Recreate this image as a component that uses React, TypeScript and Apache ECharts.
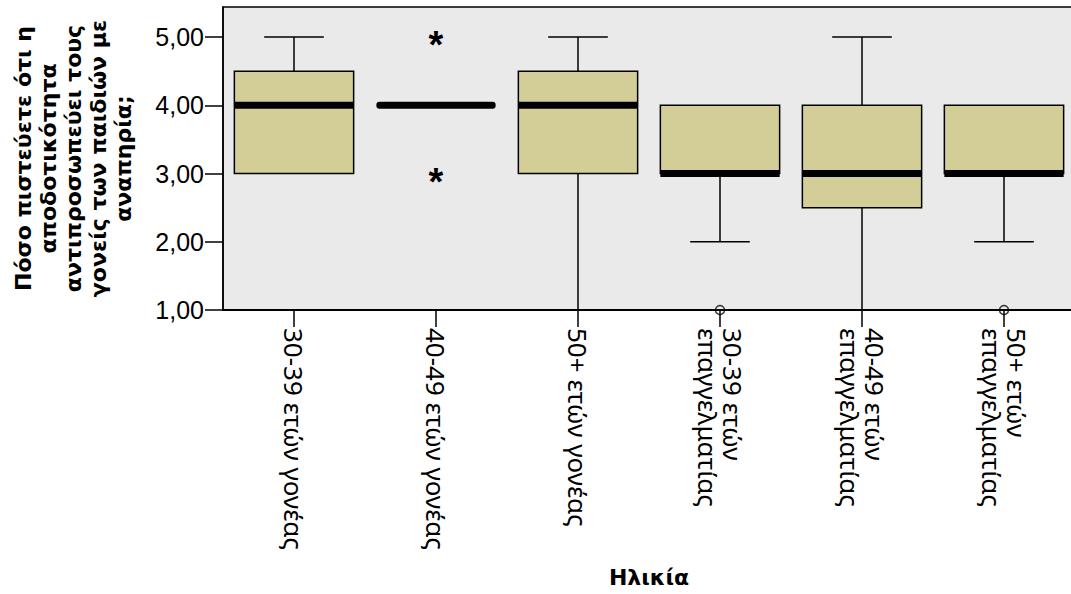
import React, { useEffect, useRef } from "react";
import * as echarts from "echarts";

const categories = [
  "30-39 ετών γονέας",
  "40-49 ετών γονέας",
  "50+ ετών γονέας",
  "30-39 ετών\nεπαγγελματίας",
  "40-49 ετών\nεπαγγελματίας",
  "50+ ετών\nεπαγγελματίας",
];
const minValues = [3, 4, 1, 2, 1, 2];
const q1Values = [3, 4, 3, 3, 2.5, 3];
const medianValues = [4, 4, 4, 3, 3, 3];
const q3Values = [4.5, 4, 4.5, 4, 4, 4];
const maxValues = [5, 4, 5, 4, 5, 4];
// extreme outliers (*): [category index, value]
const extremeOutliers = [
  [1, 5],
  [1, 3],
];
// outliers (o): [category index, value]
const mildOutliers = [
  [3, 1],
  [5, 1],
];
const yTicks = [1, 2, 3, 4, 5];

const yTitle =
  "Πόσο πιστεύετε ότι η\nαποδοτικότητα\nαντιπροσωπεύει τους\nγονείς των παιδιών με\nαναπηρία;";
const xTitle = "Ηλικία";

export default function App() {
  const ref = useRef<HTMLDivElement>(null);

  useEffect(() => {
    document.body.style.margin = "0";
    if (!ref.current) return;
    const chart = echarts.init(ref.current, null, { renderer: "svg" });

    const boxData = categories.map((_, i) => [
      i,
      minValues[i],
      q1Values[i],
      medianValues[i],
      q3Values[i],
      maxValues[i],
    ]);

    const option: any = {
      animation: false,
      backgroundColor: "#ffffff",
      grid: {
        left: 223,
        top: 7,
        width: 852,
        height: 303,
        containLabel: false,
        outerBoundsMode: "none",
        show: true,
        backgroundColor: "#EAEAEA",
        borderColor: "#000000",
        borderWidth: 1.5,
      },
      xAxis: {
        type: "category",
        data: categories,
        boundaryGap: true,
        name: xTitle,
        nameLocation: "middle",
        nameGap: 256,
        nameTextStyle: {
          fontFamily: "DejaVu Sans",
          fontWeight: "bold",
          fontSize: 22,
          color: "#000",
        },
        axisLine: { show: true, lineStyle: { color: "#000", width: 2 } },
        axisTick: {
          show: true,
          alignWithLabel: true,
          interval: 0,
          length: 17,
          lineStyle: { color: "#000", width: 1.5 },
        },
        axisLabel: {
          interval: 0,
          rotate: -90,
          margin: 18,
          padding: [4, 0, 0, 0],
          fontFamily: "Noto Sans",
          fontSize: 26,
          lineHeight: 25,
          color: "#000",
        },
        splitLine: { show: false },
      },
      yAxis: {
        type: "value",
        min: 1,
        max: 5.44,
        interval: 1,
        name: yTitle,
        nameLocation: "middle",
        nameGap: 87,
        nameRotate: 90,
        nameTextStyle: {
          fontFamily: "DejaVu Sans",
          fontWeight: "bold",
          fontSize: 22,
          lineHeight: 25,
          color: "#000",
          align: "center",
        },
        axisLine: { show: true, lineStyle: { color: "#000", width: 1.5 } },
        axisTick: {
          show: true,
          length: 18,
          customValues: yTicks,
          lineStyle: { color: "#000", width: 1.5 },
        },
        axisLabel: {
          customValues: yTicks,
          margin: 19,
          fontFamily: "Liberation Sans",
          fontSize: 25,
          color: "#000",
          formatter: (v: number) => v.toFixed(2).replace(".", ","),
        },
        splitLine: { show: false },
      },
      series: [
        {
          type: "custom",
          data: boxData,
          encode: { x: 0, y: [1, 2, 3, 4, 5] },
          z: 2,
          renderItem: (params: any, api: any) => {
            const idx = api.value(0);
            const lo = api.value(1);
            const q1 = api.value(2);
            const med = api.value(3);
            const q3 = api.value(4);
            const hi = api.value(5);
            const band = api.size([1, 0])[0];
            const bw = band * 0.84;
            const cw = bw / 2;
            const pLo = api.coord([idx, lo]);
            const pQ1 = api.coord([idx, q1]);
            const pMed = api.coord([idx, med]);
            const pQ3 = api.coord([idx, q3]);
            const pHi = api.coord([idx, hi]);
            const x = pMed[0];
            const lineStyle = { stroke: "#000", lineWidth: 1.5, fill: null };
            const children: any[] = [];
            if (lo < q1) {
              children.push({
                type: "line",
                shape: { x1: x, y1: pLo[1], x2: x, y2: pQ1[1] },
                style: lineStyle,
              });
              children.push({
                type: "line",
                shape: { x1: x - cw / 2, y1: pLo[1], x2: x + cw / 2, y2: pLo[1] },
                style: lineStyle,
              });
            }
            if (hi > q3) {
              children.push({
                type: "line",
                shape: { x1: x, y1: pHi[1], x2: x, y2: pQ3[1] },
                style: lineStyle,
              });
              children.push({
                type: "line",
                shape: { x1: x - cw / 2, y1: pHi[1], x2: x + cw / 2, y2: pHi[1] },
                style: lineStyle,
              });
            }
            if (q3 > q1) {
              children.push({
                type: "rect",
                shape: { x: x - bw / 2, y: pQ3[1], width: bw, height: pQ1[1] - pQ3[1] },
                style: { fill: "#D3CE98", stroke: "#000", lineWidth: 1.5 },
              });
            }
            children.push({
              type: "rect",
              shape: { x: x - bw / 2, y: pMed[1] - 3.5, width: bw, height: 7, r: q3 > q1 ? 0 : 3 },
              style: { fill: "#000" },
            });
            return { type: "group", children };
          },
        },
        {
          type: "custom",
          data: extremeOutliers,
          encode: { x: 0, y: 1 },
          z: 3,
          renderItem: (params: any, api: any) => {
            const p = api.coord([api.value(0), api.value(1)]);
            return {
              type: "text",
              x: p[0],
              y: p[1] + 8,
              style: {
                text: "*",
                fontFamily: "Liberation Sans",
                fontWeight: "bold",
                fontSize: 38,
                fill: "#000",
                align: "center",
                verticalAlign: "middle",
              },
            };
          },
        },
        {
          type: "scatter",
          data: mildOutliers,
          symbol: "circle",
          symbolSize: 9,
          z: 3,
          itemStyle: {
            color: "rgba(0,0,0,0)",
            borderColor: "#000",
            borderWidth: 1.5,
          },
        },
      ],
    };

    chart.setOption(option);
    return () => chart.dispose();
  }, []);

  return <div ref={ref} style={{ width: 1071, height: 594 }} />;
}
